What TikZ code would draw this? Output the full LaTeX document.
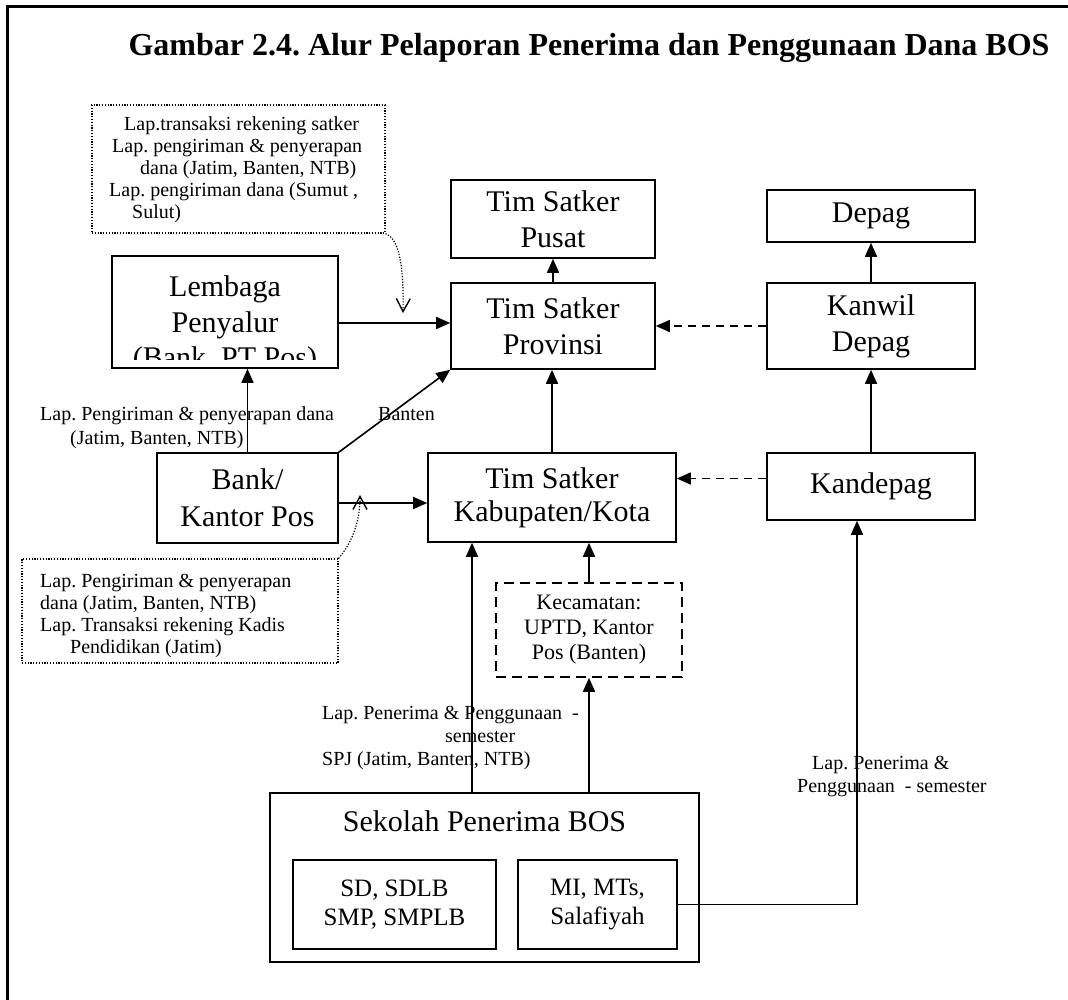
\documentclass[tikz,border=0pt]{standalone}
\usepackage{fontspec}
\setmainfont{Liberation Serif}
\usetikzlibrary{arrows.meta,calc}
\frenchspacing
\begin{document}
\begin{tikzpicture}[x=1pt,y=-1pt]
\tikzset{
 box/.style={draw, line width=1.6pt, inner sep=0pt, align=center, font=\fontsize{30}{36}\selectfont},
 arr/.style={line width=1.6pt, -{Triangle[length=14pt,width=12pt]}},
 darr/.style={arr, dash pattern=on 8pt off 6pt},
 dotbox/.style={draw, line width=1.2pt, dash pattern=on 1.2pt off 1.6pt, inner sep=0pt},
 dotarr/.style={line width=1.2pt, dash pattern=on 1.2pt off 1.6pt, -{Straight Barb[length=13pt,width=14pt,line width=1.4pt]}},
 small/.style={font=\fontsize{20}{23}\selectfont, inner sep=0pt, anchor=base west},
 bigline/.style={font=\fontsize{30}{36}\selectfont, inner sep=0pt, anchor=base},
}
\useasboundingbox (0,0) rectangle (1068,1000);
\fill[white] (0,0) rectangle (1068,1000);
% frame
\draw[line width=3pt] (7,1000) -- (7,7) -- (1068,7);
% title
\node[font=\fontsize{32}{38}\selectfont\bfseries, inner sep=0pt] (title) at (589,48) {Gambar 2.4. Alur Pelaporan Penerima dan Penggunaan Dana BOS};

% boxes
\node[box, minimum width=204pt, minimum height=78pt] (pusat) at (553,219) {Tim Satker\\Pusat};
\node[box, minimum width=204pt, minimum height=86pt] (provinsi) at (553,326) {Tim Satker\\Provinsi};
\node[box, minimum width=208pt, minimum height=52pt] (depag) at (871,216) {Depag};
\node[box, minimum width=208pt, minimum height=86pt] (kanwil) at (871,326) {Kanwil\\Depag};
\node[box, minimum width=208pt, minimum height=67pt] (kandepag) at (871,486.5) {Kandepag};
\node[box, minimum width=248pt, minimum height=89pt, font=\fontsize{30}{33}\selectfont] (kabupaten) at (552,497.5) {Tim Satker\\Kabupaten/Kota};
\node[box, minimum width=181pt, minimum height=90pt, font=\fontsize{30}{37}\selectfont] (bank) at (247.5,498) {Bank/\\Kantor Pos};
\node[box, dash pattern=on 10pt off 6pt, minimum width=186pt, minimum height=94pt, font=\fontsize{22}{25}\selectfont] (kecamatan) at (589,630) {Kecamatan:\\UPTD, Kantor\\Pos (Banten)};
\node[box, minimum width=429pt, minimum height=169pt] (sekolah) at (484.5,877.5) {};
\node[bigline, anchor=center] (sekolahtext) at (484.5,821) {Sekolah Penerima BOS};
\node[box, minimum width=203pt, minimum height=89pt, font=\fontsize{25}{29}\selectfont] (sd) at (394.5,904.5) {SD, SDLB\\SMP, SMPLB};
\node[box, minimum width=159pt, minimum height=89pt, font=\fontsize{25}{29}\selectfont] (mi) at (597.5,904.5) {MI, MTs,\\Salafiyah};

% Lembaga box with clipped text
\node[box, minimum width=226pt, minimum height=112pt] (lembaga) at (225,312) {};
\begin{scope}
\clip (112,256) rectangle (338,359);
\node[bigline] (lem1) at (225,297) {Lembaga};
\node[bigline] (lem2) at (225,332) {Penyalur};
\node[bigline] (lem3) at (225,367) {(Bank, PT Pos)};
\end{scope}

% note boxes
\node[dotbox, minimum width=293pt, minimum height=128pt] (notea) at (238.5,169) {};
\node[small] (na1) at (124,131) {Lap.transaksi rekening satker};
\node[small] (na2) at (112,153) {Lap. pengiriman \& penyerapan};
\node[small] (na3) at (140,175) {dana (Jatim, Banten, NTB)};
\node[small] (na4) at (109,197) {Lap. pengiriman dana (Sumut ,};
\node[small] (na5) at (132,219) {Sulut)};

\node[dotbox, minimum width=316pt, minimum height=104pt] (noteb) at (180,611) {};
\node[small] (nb1) at (40,587) {Lap. Pengiriman \& penyerapan};
\node[small] (nb2) at (40,609) {dana (Jatim, Banten, NTB)};
\node[small] (nb3) at (40,631) {Lap. Transaksi rekening Kadis};
\node[small] (nb4) at (70,653) {Pendidikan (Jatim)};

% labels
\node[small] (l1) at (40,420) {Lap. Pengiriman \& penyerapan dana};
\node[small] (l2) at (70,444) {(Jatim, Banten, NTB)};
\node[small] (l3) at (378,420) {Banten};
\node[small] (m1) at (322,719) {Lap. Penerima \& Penggunaan~~-};
\node[small] (m2) at (445,742) {semester};
\node[small] (m3) at (322,765) {SPJ (Jatim, Banten, NTB)};
\node[small] (r1) at (812,769) {Lap. Penerima \&};
\node[small] (r2) at (797,792) {Penggunaan~~- semester};

% connectors
\draw[arr] ([yshift=-11pt]lembaga.east) -- ([yshift=-11pt]lembaga.east -| provinsi.west);
\draw[darr] (kanwil.west) -- (provinsi.east);
\draw[arr] (provinsi.north) -- (pusat.south);
\draw[arr] (kanwil.north) -- (depag.south);
\draw[arr] (kandepag.north) -- (kanwil.south);
\draw[arr] (kabupaten.north) -- (kabupaten.north |- provinsi.south);
\draw[darr] ([yshift=8pt]kandepag.west) -- ([yshift=8pt]kandepag.west -| kabupaten.east);
\draw[arr] (bank.north) -- (bank.north |- lembaga.south);
\draw[arr] (bank.north east) -- (provinsi.south west);
\draw[arr] ([yshift=-5pt]bank.east) -- ([yshift=-5pt]bank.east -| kabupaten.west);
\draw[arr] (kecamatan.north) -- (kecamatan.north |- kabupaten.south);
\coordinate (s1) at (472,793);
\draw[arr] (s1) -- (s1 |- kabupaten.south);
\draw[arr] (sekolah.north -| kecamatan.south) -- (kecamatan.south);
\coordinate (kbend) at (857,905);
\draw[arr] (mi.east) -- (mi.east -| kbend) -- (kbend |- kandepag.south);

% dotted pointers
\coordinate (tipa) at (403,313);
\draw[dotarr] (notea.south east) .. controls (398,238) and (404,262) .. (tipa);
\coordinate (tipb) at (360,495);
\draw[dotarr] (noteb.north east) .. controls (350,545) and (360,525) .. (tipb);
\end{tikzpicture}
\end{document}
